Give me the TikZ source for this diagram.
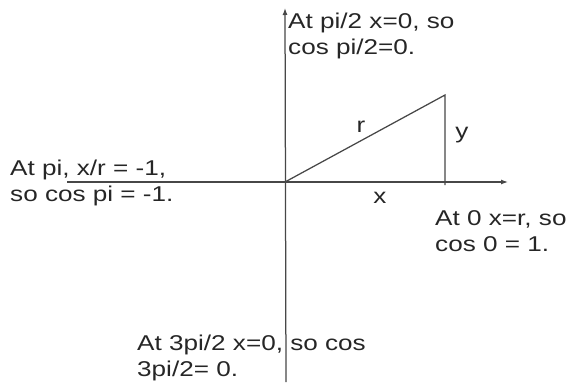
\documentclass[tikz,border=0pt]{standalone}
\usepackage{fontspec}
\newfontfamily\labfont[FakeStretch=1.22]{Liberation Sans}
\usetikzlibrary{arrows.meta}
\begin{document}
\begin{tikzpicture}[x=1pt,y=-1pt,
  axisline/.style={draw=black!72,line width=1.25pt},
  axisarrow/.style={axisline,-{Latex[length=7pt,width=5pt]}},
  lab/.style={inner sep=0pt,anchor=base west,align=left,text=black!85,
    font=\labfont\fontsize{21.4}{26}\selectfont},
  letter/.style={inner sep=0pt,anchor=base,text=black!85,
    font=\labfont\fontsize{21.4}{26}\selectfont}]
\useasboundingbox (0,0) rectangle (568,388);
\coordinate (O) at (285,182);
\coordinate (T) at (285,8);
\coordinate (B) at (286,382);
\coordinate (L) at (67,182);
\coordinate (R) at (508,182);
\coordinate (P) at (445,95);
\coordinate (F) at (445,185);
\draw[axisarrow] (B) -- (T);
\draw[axisarrow] (L) -- (R);
\draw[axisline] (O) -- (P) -- (F);
\node[lab] (n1) at (288,54) {At pi/2 x=0, so\\cos pi/2=0.};
\node[lab] (n2) at (10,201) {At pi, x/r = -1,\\so cos pi = -1.};
\node[lab] (n3) at (435,251) {At 0 x=r, so\\cos 0 = 1.};
\node[lab] (n4) at (137,376) {At 3pi/2 x=0, so cos\\3pi/2= 0.};
\node[letter] (lr) at (361,132) {r};
\node[letter] (ly) at (462,138) {y};
\node[letter] (lx) at (380,203) {x};
\end{tikzpicture}
\end{document}
